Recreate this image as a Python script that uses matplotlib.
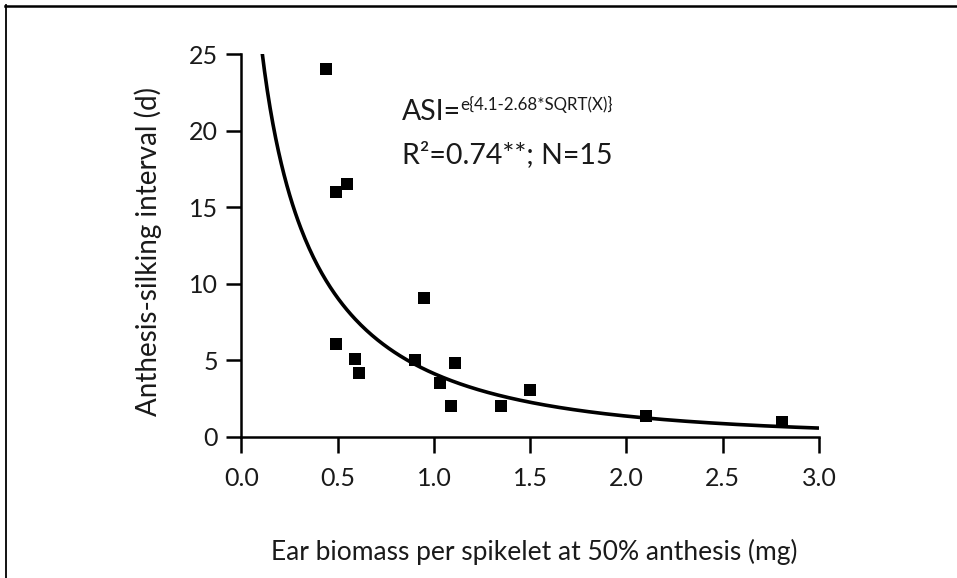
import numpy as np
import matplotlib
matplotlib.use("Agg")
import matplotlib.pyplot as plt
from matplotlib.lines import Line2D

# Data
biomass = [0.44, 0.49, 0.55, 0.49, 0.59, 0.61, 0.90, 0.95, 1.03, 1.09, 1.11, 1.35, 1.50, 2.10, 2.81]
asi = [24.0, 16.0, 16.5, 6.1, 5.1, 4.2, 5.05, 9.1, 3.5, 2.0, 4.8, 2.0, 3.1, 1.4, 1.0]

# Fitted model stated on the chart: ASI = exp(a - b*sqrt(x))
fit_a = 4.1
fit_b = 2.68

x_ticks = [0.0, 0.5, 1.0, 1.5, 2.0, 2.5, 3.0]
x_ticklabels = ["0.0", "0.5", "1.0", "1.5", "2.0", "2.5", "3.0"]
y_ticks = [0, 5, 10, 15, 20, 25]
y_ticklabels = ["0", "5", "10", "15", "20", "25"]

plt.rcParams['font.family'] = ['Lato', 'DejaVu Sans']
TXT = "#1a1a1a"

W, H = 957, 578
fig = plt.figure(figsize=(W / 100, H / 100), dpi=100)
fig.patch.set_facecolor("white")

x0, x1, y0, y1 = 241.5, 819, 437, 54
ax = fig.add_axes([x0 / W, 1 - y0 / H, (x1 - x0) / W, (y0 - y1) / H])

# fitted curve
x_start = ((fit_a - np.log(25.3)) / fit_b) ** 2
xs = np.linspace(x_start, 3.0, 400)
ax.plot(xs, np.exp(fit_a - fit_b * np.sqrt(xs)), color="black", lw=2.6,
        solid_capstyle="butt", zorder=2)

ax.scatter(biomass, asi, marker="s", s=78, color="black", linewidths=0, zorder=3)

ax.set_xlim(0, 3.0)
ax.set_ylim(0, 25)
ax.set_xticks(x_ticks)
ax.set_xticklabels(x_ticklabels)
ax.set_yticks(y_ticks)
ax.set_yticklabels(y_ticklabels)

for s in ["top", "right"]:
    ax.spines[s].set_visible(False)
for s in ["left", "bottom"]:
    ax.spines[s].set_linewidth(1.8)
ax.tick_params(axis="x", direction="out", length=11.5, width=1.8, labelsize=18,
               pad=10, colors="black", labelcolor=TXT)
ax.tick_params(axis="y", direction="out", length=11, width=1.8, labelsize=18,
               pad=6, colors="black", labelcolor=TXT)

fig.text(148 / W, 1 - 251 / H, "Anthesis-silking interval (d)", rotation=90,
         ha="center", va="center", fontsize=20, color=TXT)
fig.text(534 / W, 1 - 552 / H, "Ear biomass per spikelet at 50% anthesis (mg)",
         ha="center", va="center", fontsize=19, color=TXT)

# equation annotation
fig.text(402 / W, 1 - 120 / H, "ASI=", ha="left", va="baseline", fontsize=20.5,
         color=TXT)
fig.text(460 / W, 1 - 110 / H, "e{4.1-2.68*SQRT(X)}", ha="left", va="baseline",
         fontsize=12.2, color=TXT)
fig.text(402 / W, 1 - 163 / H, "R\u00b2=0.74**; N=15", ha="left", va="baseline",
         fontsize=20.5, color=TXT)

# figure frame (top and left lines)
fig.add_artist(Line2D([5 / W, 1.0], [1 - 5.5 / H, 1 - 5.5 / H],
                      transform=fig.transFigure, color="black", lw=1.8))
fig.add_artist(Line2D([5.5 / W, 5.5 / W], [0, 1 - 5 / H],
                      transform=fig.transFigure, color="black", lw=1.3))

fig.savefig("out.png", dpi=100, facecolor="white")
